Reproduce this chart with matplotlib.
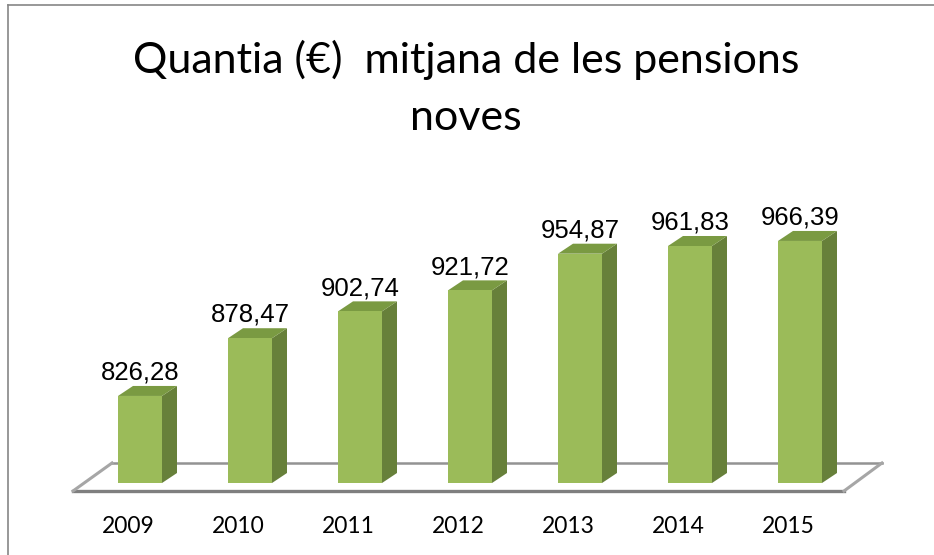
import matplotlib
matplotlib.use("Agg")
import matplotlib.pyplot as plt
from matplotlib.patches import Polygon
from matplotlib.lines import Line2D
import numpy as np

# dades
years = ["2009", "2010", "2011", "2012", "2013", "2014", "2015"]
values = [826.28, 878.47, 902.74, 921.72, 954.87, 961.83, 966.39]
value_labels = ["826,28", "878,47", "902,74", "921,72", "954,87", "961,83", "966,39"]

W, H = 934, 555
fig = plt.figure(figsize=(W / 100, H / 100), dpi=100)

# eix: centre de barres a 140 + 110*i px, terra a y=483 px
y_floor = 747.6
px_per_unit = 1.1063
ax = fig.add_axes([85 / W, (H - 483) / H, 770 / W, (1000 - y_floor) * px_per_unit / H])
ax.set_xlim(-0.5, 6.5)
ax.set_ylim(y_floor, 1000)
ax.axis("off")

front_c = "#9BBB59"
side_c = "#67803A"
top_c = "#7A9A42"

bar_w = 0.4
dx = 15 / 110            # profunditat en unitats x
dy = 10 / px_per_unit    # profunditat en unitats y

# terra
fl_front, fl_back = y_floor - 8 / px_per_unit, y_floor + 20 / px_per_unit
floor = Polygon([(-0.609, fl_front), (6.4, fl_front), (6.745, fl_back), (-0.2545, fl_back)],
                closed=True, facecolor="white", edgecolor="none", clip_on=False, zorder=1)
ax.add_patch(floor)
ax.plot([-0.2545, 6.745], [fl_back, fl_back], color="#939393", lw=1.8, clip_on=False, zorder=1.5)
ax.plot([-0.609, 6.4], [fl_front, fl_front], color="#7F7F7F", lw=2.4, clip_on=False, zorder=1.5)
ax.plot([-0.609, -0.2545], [fl_front, fl_back], color="#A6A6A6", lw=2.2, clip_on=False, zorder=1.5)
ax.plot([6.4, 6.745], [fl_front, fl_back], color="#A6A6A6", lw=2.2, clip_on=False, zorder=1.5)

x = np.arange(len(years))
ax.bar(x, np.array(values) - y_floor, bottom=y_floor, width=bar_w, color=front_c,
       zorder=3, clip_on=False)
for xi, v in zip(x, values):
    r = xi + bar_w / 2
    l = xi - bar_w / 2
    side = Polygon([(r, y_floor), (r + dx, y_floor + dy), (r + dx, v + dy), (r, v)],
                   closed=True, facecolor=side_c, edgecolor="none", zorder=2.9, clip_on=False)
    top = Polygon([(l, v), (r, v), (r + dx, v + dy), (l + dx, v + dy)],
                  closed=True, facecolor=top_c, edgecolor="none", zorder=2.9, clip_on=False)
    ax.add_patch(side)
    ax.add_patch(top)

for xi, v, lab in zip(x, values, value_labels):
    ax.annotate(lab, (xi, v + dy), xytext=(0, 4.5), textcoords="offset points",
                ha="center", va="baseline", fontsize=18.5, family="Liberation Sans",
                color="black", annotation_clip=False)

# etiquetes d'any
for xi, yr in zip(x, years):
    ax.annotate(yr, (xi, fl_front), xytext=(-8.3, -30), textcoords="offset points",
                ha="center", va="baseline", fontsize=16.5, family="Lato", color="black",
                annotation_clip=False)

# títol
fig.text(466 / W, 1 - 73 / H, "Quantia (€)  mitjana de les pensions", ha="center",
         va="baseline", fontsize=31, family="Lato", color="black")
fig.text(466 / W, 1 - 130 / H, "noves", ha="center", va="baseline", fontsize=31,
         family="Lato", color="black")

# vora del gràfic
fig.add_artist(Line2D([8 / W, 8 / W], [0, 1 - 5 / H], color="#868686", lw=1.2))
fig.add_artist(Line2D([8 / W, 1], [1 - 5 / H, 1 - 5 / H], color="#868686", lw=1.2))

fig.savefig("out.png", dpi=100)
